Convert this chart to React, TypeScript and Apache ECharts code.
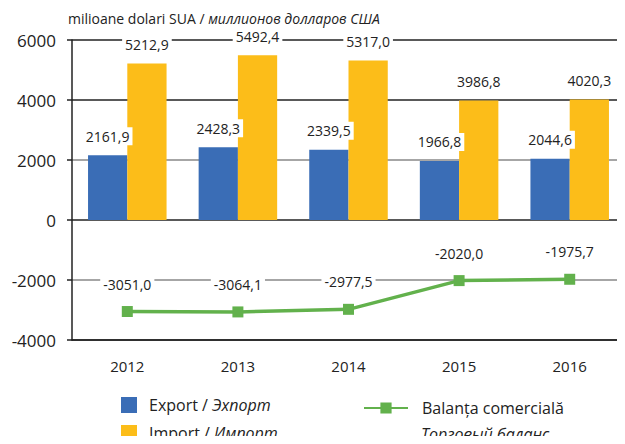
import React, { useEffect, useRef } from "react";
import * as echarts from "echarts";

const years = ["2012", "2013", "2014", "2015", "2016"];
const exportValues = [2161.9, 2428.3, 2339.5, 1966.8, 2044.6];
const importValues = [5212.9, 5492.4, 5317.0, 3986.8, 4020.3];
const balanceValues = [-3051.0, -3064.1, -2977.5, -2020.0, -1975.7];

const exportName = "Export / Эхпорт";
const importName = "Import / Импорт";
const balanceName = "Balanța comercială";
const balanceNameRu = "Торговый баланс";
const unitRo = "milioane dolari SUA";
const unitRu = "миллионов долларов США";

const FONT = "'Open Sans', 'Noto Sans', sans-serif";
const fmt = (v: number) => v.toFixed(1).replace(".", ",");

export default function App() {
  const ref = useRef<HTMLDivElement>(null);
  useEffect(() => {
    if (!ref.current) return;
    const chart = echarts.init(ref.current, null, { renderer: "svg" });
    const labelBase = {
      show: true,
      fontFamily: FONT,
      fontSize: 14,
      color: "#222",
      backgroundColor: "#fff",
      padding: [2, 3],
      formatter: (p: any) => fmt(p.value),
    };
    chart.setOption({
      animation: false,
      textStyle: { fontFamily: FONT },
      title: {
        text: `${unitRo} / {i|${unitRu}}`,
        left: 63,
        top: 6,
        textStyle: {
          fontFamily: FONT,
          fontSize: 14,
          fontWeight: "normal",
          color: "#222",
          rich: { i: { fontFamily: FONT, fontSize: 14, fontStyle: "italic", color: "#222" } },
        },
      },
      grid: { left: 72, right: -3, top: 40, bottom: 104, containLabel: false },
      xAxis: {
        type: "category",
        data: years,
        axisLine: { onZero: false, lineStyle: { color: "#222", width: 1.5 } },
        axisTick: { show: false },
        axisLabel: { fontFamily: FONT, fontSize: 15, color: "#222", margin: 18 },
      },
      yAxis: {
        type: "value",
        min: -4000,
        max: 6000,
        interval: 2000,
        axisLine: { show: true, lineStyle: { color: "#222", width: 1.5 } },
        axisTick: { show: true, inside: false, length: 5, lineStyle: { color: "#222", width: 1.5 } },
        axisLabel: {
          fontFamily: FONT,
          fontSize: 17,
          color: "#222",
          margin: 16,
          formatter: (v: number) => String(v),
        },
        splitLine: {
          show: true,
          lineStyle: {
            color: ["#222", "#888", "#222", "#888", "#222", "#222"],
            width: 1.5,
          },
        },
      },
      legend: [
        {
          data: [exportName, importName],
          orient: "vertical",
          left: 121,
          top: 395,
          height: 100,
          padding: 0,
          itemWidth: 16,
          itemHeight: 16,
          itemGap: 8,
          icon: "rect",
          formatter: (name: string) => {
            const [a, b] = name.split(" / ");
            return `${a} / {i|${b}}`;
          },
          textStyle: {
            fontFamily: FONT,
            fontSize: 16,
            lineHeight: 20,
            color: "#222",
            padding: [0, 0, 0, 7],
            rich: {
              i: { fontFamily: FONT, fontSize: 16, lineHeight: 20, fontStyle: "italic", color: "#222" },
            },
          },
        },
        {
          data: [balanceName],
          left: 363,
          top: 398,
          padding: 0,
          itemWidth: 44,
          itemHeight: 14,
          textStyle: {
            fontFamily: FONT,
            fontSize: 16,
            lineHeight: 20,
            color: "#222",
            padding: [0, 0, 0, 9],
          },
        },
      ],
      graphic: [
        {
          type: "text",
          left: 421,
          top: 426,
          style: {
            text: balanceNameRu,
            font: `italic 16px ${FONT}`,
            fill: "#222",
          },
        },
      ],
      series: [
        {
          name: exportName,
          type: "bar",
          data: exportValues,
          barGap: "0%",
          barCategoryGap: "29%",
          itemStyle: { color: "#3a6db6" },
          label: { ...labelBase, position: "top", distance: 10 },
        },
        {
          name: importName,
          type: "bar",
          data: importValues,
          itemStyle: { color: "#fcbd19" },
          label: { ...labelBase, position: "top", distance: 10 },
        },
        {
          name: balanceName,
          type: "line",
          data: balanceValues,
          symbol: "rect",
          symbolSize: 11,
          itemStyle: { color: "#62b14c" },
          lineStyle: { color: "#62b14c", width: 3.5 },
          label: { ...labelBase, position: "top", distance: 13 },
        },
      ],
    });
    return () => chart.dispose();
  }, []);
  return <div ref={ref} style={{ width: 625, height: 444, margin: -8 }} />;
}
